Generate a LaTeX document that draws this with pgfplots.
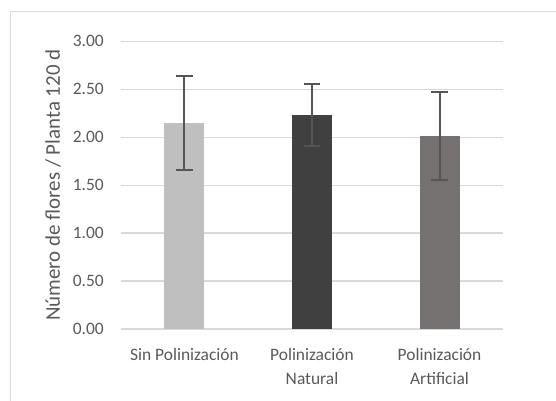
\documentclass[border=0pt]{standalone}
\usepackage{fontspec}
\setmainfont{Carlito}
\usepackage{pgfplots}
\pgfplotsset{compat=1.18}

\definecolor{gridc}{HTML}{D9D9D9}
\definecolor{textc}{HTML}{595959}
\definecolor{errc}{HTML}{555555}
\definecolor{barA}{HTML}{BFBFBF}
\definecolor{barB}{HTML}{404040}
\definecolor{barC}{HTML}{767171}

\begin{document}
\begin{tikzpicture}
\path[use as bounding box] (0,0) rectangle (556bp,401bp);
% chart area frame
\draw[gridc, line width=1bp] (10.5bp,-5bp) -- (10.5bp,389.5bp) -- (560bp,389.5bp);

\begin{axis}[
    at={(120.7bp,72bp)}, anchor=south west,
    scale only axis,
    width=382.6bp, height=287.7bp,
    ybar, bar width=40bp,
    xmin=-0.5, xmax=2.5,
    ymin=0, ymax=3,
    ytick={0,0.5,1,1.5,2,2.5,3},
    xtick={0,1,2},
    xticklabels={Sin Polinización, {Polinización\\Natural}, {Polinización\\Artificial}},
    axis line style={draw=none},
    tick style={draw=none},
    ymajorgrids=true,
    grid style={gridc, line width=1.2bp},
    /pgf/number format/.cd, fixed, fixed zerofill, precision=2, assume math mode=true,
    /pgfplots/.cd,
    tick label style={textc, inner sep=0pt},
    yticklabel style={font=\fontsize{17.5}{20}\selectfont, xshift=-16.7bp},
    xticklabel style={font=\fontsize{17.5}{24}\selectfont, align=center, yshift=-15bp},
    ylabel={Número de flores / Planta 120 d},
    every axis y label/.style={at={(axis description cs:0,0.5)}, xshift=-67.7bp,
        rotate=90, anchor=center, font=\fontsize{21}{24}\selectfont, textc},
    error bars/y dir=both, error bars/y explicit,
    error bars/error bar style={errc, line width=2bp},
    error bars/error mark options={rotate=90, mark size=8.3bp, errc, line width=2bp},
]
\addplot[fill=barA, draw=none, bar shift=0pt] coordinates {(0,2.15) +- (0,0.49)};
\addplot[fill=barB, draw=none, bar shift=0pt] coordinates {(1,2.23) +- (0,0.32)};
\addplot[fill=barC, draw=none, bar shift=0pt] coordinates {(2,2.01) +- (0,0.46)};
\end{axis}
\end{tikzpicture}
\end{document}
